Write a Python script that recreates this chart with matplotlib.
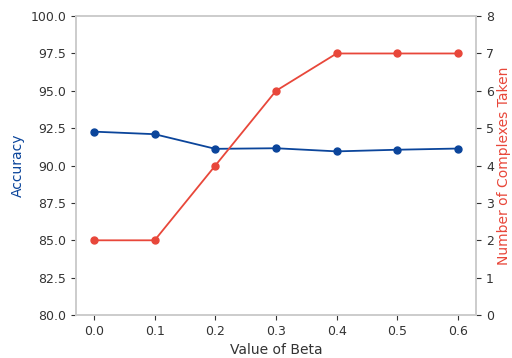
import matplotlib
matplotlib.use("Agg")
import matplotlib.pyplot as plt
import seaborn as sns

beta = [0.0, 0.1, 0.2, 0.3, 0.4, 0.5, 0.6]
accuracy = [92.27, 92.1, 91.12, 91.16, 90.95, 91.06, 91.14]
complexes = [2, 2, 4, 6, 7, 7, 7]

sns.set_style("ticks")
plt.rcParams['font.family'] = ['DejaVu Sans']

blue = '#0b459b'
red = '#e8473a'

fig, ax1 = plt.subplots(figsize=(5.12, 3.58), dpi=100)
ax1.plot(beta, accuracy, color=blue, marker='o', markersize=5, linewidth=1.3)
ax1.set_ylim(80, 100)
ax1.set_xlabel('Value of Beta', fontsize=10, color='#333333')
ax1.set_ylabel('Accuracy', color=blue, fontsize=10)
ax1.set_xticks(beta)
ax1.set_xlim(-0.03, 0.63)

ax2 = ax1.twinx()
ax2.plot(beta, complexes, color=red, marker='o', markersize=5, linewidth=1.3)
ax2.set_ylim(0, 8)
ax2.set_ylabel('Number of Complexes Taken', color=red, fontsize=10, labelpad=2)

for ax in (ax1, ax2):
    for s in ax.spines.values():
        s.set_color('#cccccc')
        s.set_linewidth(1.2)
    ax.tick_params(labelsize=9, colors='#333333')
    ax.tick_params(axis='both', color='#333333')

fig.subplots_adjust(left=0.148, right=0.93, top=0.955, bottom=0.12)
fig.savefig('out.png')
